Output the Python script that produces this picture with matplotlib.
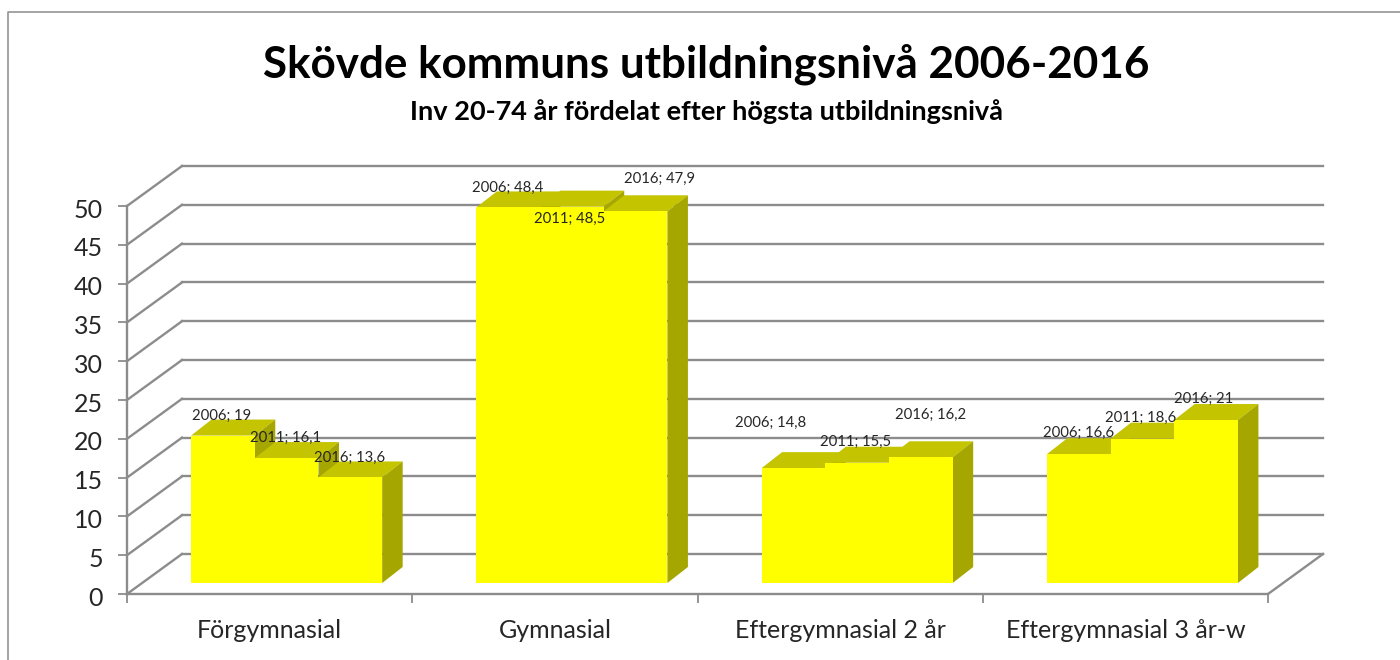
import matplotlib
matplotlib.use('Agg')
import matplotlib.pyplot as plt
from matplotlib.transforms import ScaledTranslation

categories = ['Förgymnasial', 'Gymnasial', 'Eftergymnasial 2 år', 'Eftergymnasial 3 år-w']
years = ['2006', '2011', '2016']
values_2006 = [19, 48.4, 14.8, 16.6]
values_2011 = [16.1, 48.5, 15.5, 18.6]
values_2016 = [13.6, 47.9, 16.2, 21]
y_ticks = [0, 5, 10, 15, 20, 25, 30, 35, 40, 45, 50]

# label offsets from the top centre of each bar, in pixels (one row per category)
label_offsets = [
    [(-1, 20), (-1, 20), (-1, 20)],
    [(-1, 20), (-2, -12), (24, 32)],
    [(-23, 45), (-2, 21), (10, 42)],
    [(0, 21), (-2, 21), (-2, 21)],
]

GRID = '#8c8c8c'
FRONT = '#ffff00'
TOP = '#c4c400'
SIDE = '#a6a600'
PX = 0.72  # points per pixel at dpi 100

plt.rcParams['font.family'] = ['Lato', 'DejaVu Sans']

fig = plt.figure(figsize=(14, 6.6), dpi=100)
ax = fig.add_axes([127 / 1400, 66 / 660, 1141 / 1400, 388 / 660])
ax.set_xlim(0, 4)
ax.set_ylim(0, 50)

# pixel sizes of one unit on each axis
ux = 1141 / 4
uy = 388 / 50

# depth of the floor and of the bars, in data units
wall_dx, wall_dy = 55 / ux, 40 / uy
bar_x0, bar_y0 = 17 / ux, 11 / uy
bar_dx, bar_dy = 20.5 / ux, 16 / uy
bar_w = 63.7 / ux

# walls and grid
for v in y_ticks:
    ax.plot([0, wall_dx], [v, v + wall_dy], color=GRID, lw=1.7, clip_on=False, zorder=1)
    ax.plot([wall_dx, 4 + wall_dx], [v + wall_dy, v + wall_dy], color=GRID, lw=1.7,
            clip_on=False, zorder=1)
ax.plot([4, 4 + wall_dx], [0, wall_dy], color=GRID, lw=1.7, clip_on=False, zorder=1)

# bars, the depth faces go first and the front faces on top of them
series = [values_2006, values_2011, values_2016]
for c in range(len(categories)):
    left = c + 0.5 + bar_x0 - 1.5 * bar_w
    for s in range(len(series)):
        v = series[s][c] + bar_y0
        x0 = left + s * bar_w
        x1 = x0 + bar_w
        ax.fill([x0, x1, x1 + bar_dx, x0 + bar_dx], [v, v, v + bar_dy, v + bar_dy],
                color=TOP, lw=0, clip_on=False, zorder=3)
        ax.fill([x1, x1 + bar_dx, x1 + bar_dx, x1],
                [bar_y0, bar_y0 + bar_dy, v + bar_dy, v],
                color=SIDE, lw=0, clip_on=False, zorder=3)
    xs = [left + (s + 0.5) * bar_w for s in range(len(series))]
    tops = [series[s][c] for s in range(len(series))]
    ax.bar(xs, tops, width=bar_w, bottom=bar_y0, color=FRONT, lw=0, clip_on=False, zorder=4)

    for s in range(len(series)):
        text = years[s] + '; ' + str(tops[s]).replace('.', ',')
        off = label_offsets[c][s]
        ax.annotate(text, (xs[s], tops[s] + bar_y0),
                    xytext=(off[0] * PX, off[1] * PX), textcoords='offset points',
                    ha='center', va='center', fontsize=10.7, color='#262626',
                    annotation_clip=False, zorder=6)

# axes
for name in ['top', 'right']:
    ax.spines[name].set_visible(False)
for name in ['left', 'bottom']:
    ax.spines[name].set_color(GRID)
    ax.spines[name].set_linewidth(1.7)
    ax.spines[name].set_zorder(2)
ax.set_yticks(y_ticks)
ax.set_xticks([0, 1, 2, 3, 4])
ax.set_xticklabels([])
ax.set_xticks([0.5, 1.5, 2.5, 3.5], minor=True)
ax.set_xticklabels(categories, minor=True)
ax.tick_params(axis='x', which='major', length=6.5, width=1.3, color=GRID)
ax.tick_params(axis='x', which='minor', length=0, pad=18, labelsize=18, labelcolor='#262626')
ax.tick_params(axis='y', length=6.5, width=1.3, color=GRID, pad=11, labelsize=18,
               labelcolor='#262626')
# numbers sit a little low in the reference
nudge = ScaledTranslation(0, -2 / 100, fig.dpi_scale_trans)
for lab in ax.get_yticklabels():
    lab.set_transform(lab.get_transform() + nudge)

# outer frame, only top and left show in the crop
fig.add_artist(plt.Line2D([8 / 1400, 8 / 1400, 1], [0, 1 - 12 / 660, 1 - 12 / 660],
                          color='#8c8c8c', lw=1.1))

fig.text(706 / 1400, 1 - 64 / 660, 'Skövde kommuns utbildningsnivå 2006-2016',
         ha='center', va='center', fontsize=31.7, fontweight='bold', color='black')
fig.text(706 / 1400, 1 - 112 / 660, 'Inv 20-74 år fördelat efter högsta utbildningsnivå',
         ha='center', va='center', fontsize=19.5, fontweight='bold', color='black')

fig.savefig('out.png', dpi=100, facecolor='white')
